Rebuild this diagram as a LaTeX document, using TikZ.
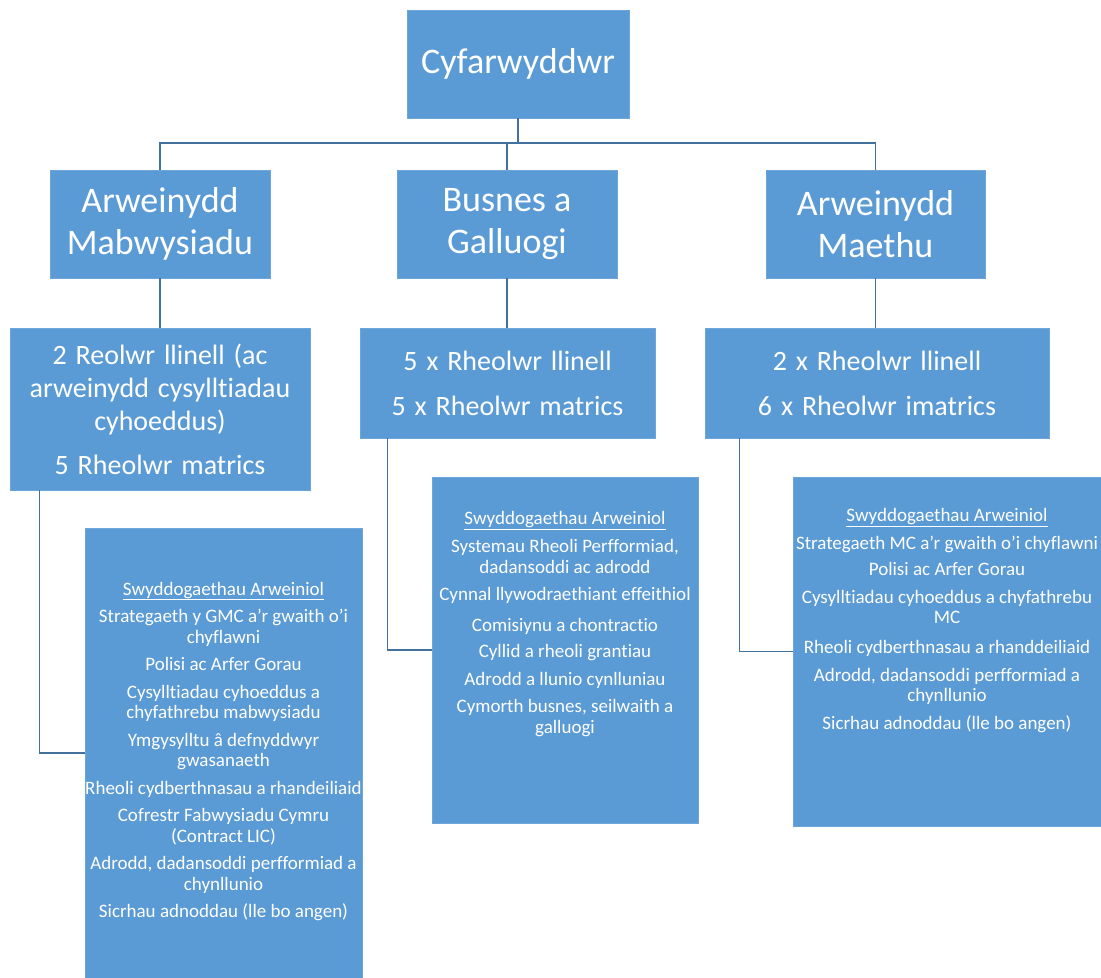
\documentclass[tikz,border=0pt]{standalone}
\usepackage{fontspec}
\setmainfont{Carlito}[Ligatures={NoCommon, NoContextual}]
\newfontfamily\widefamily{Carlito}[Ligatures={NoCommon, NoContextual}, WordSpace=1.4]
\definecolor{boxblue}{HTML}{5B9BD5}
\definecolor{boxedge}{HTML}{6EA6DA}
\definecolor{linkblue}{HTML}{41719C}

\begin{document}
\begin{tikzpicture}[x=1bp, y=-1bp,
  box/.style={rectangle, fill=boxblue, draw=boxedge, line width=0.8bp, text=white, align=center, inner sep=0pt},
  big/.style={box, minimum height=108bp, font=\fontsize{36bp}{42bp}\selectfont},
  mgr/.style={box, font=\widefamily\fontsize{28bp}{33bp}\selectfont},
  leadtext/.style={text=white, align=center, inner sep=0pt, anchor=north, font=\fontsize{19bp}{20.5bp}\selectfont},
  link/.style={draw=linkblue, line width=1.6bp}]
\useasboundingbox (0,0) rectangle (1101,978);
% Director
\node[big, minimum width=222bp] (dir) at (518,64) {Cyfarwyddwr}; % Top
% Leads
\node[big, minimum width=220bp] (mab) at (160,224) {Arweinydd\\Mabwysiadu}; % Left
\node[big, minimum width=220bp] (bus) at (507,224) {Busnes a\\Galluogi}; % Middle
\node[big, minimum width=219bp] (mae) at (875.5,224) {Arweinydd\\Maethu}; % Right
% Managers
\node[mgr, minimum width=300bp, minimum height=162bp] (mabmgr) at (160,409) {2 Reolwr llinell (ac\\arweinydd cysylltiadau\\cyhoeddus)\\[11bp]5 Rheolwr matrics};
\node[mgr, minimum width=295bp, minimum height=110bp] (busmgr) at (507.5,383) {5 x Rheolwr llinell\\[12bp]5 x Rheolwr matrics};
\node[mgr, minimum width=344bp, minimum height=110bp] (maemgr) at (877,383) {2 x Rheolwr llinell\\[12bp]6 x Rheolwr imatrics};
% Lead functions
\node[box, minimum width=277bp, minimum height=450bp] (mablead) at (223.5,753) {};
\node[box, minimum width=266bp, minimum height=346bp] (buslead) at (565,650) {};
\node[box, minimum width=308bp, minimum height=349bp] (maelead) at (947,651.5) {};
\node[leadtext] (mabtext) at ([yshift=-54bp]mablead.north) {\underline{Swyddogaethau Arweiniol}\\[7bp]
  Strategaeth y GMC a’r gwaith o’i\\chyflawni\\[7bp]
  Polisi ac Arfer Gorau\\[7bp]
  Cysylltiadau cyhoeddus a\\chyfathrebu mabwysiadu\\[7bp]
  Ymgysylltu â defnyddwyr\\gwasanaeth\\[7bp]
  Rheoli cydberthnasau a rhandeiliaid\\[7bp]
  Cofrestr Fabwysiadu Cymru\\(Contract LIC)\\[7bp]
  Adrodd, dadansoddi perfformiad a\\chynllunio\\[7bp]
  Sicrhau adnoddau (lle bo angen)};
\node[leadtext] (bustext) at ([yshift=-35bp]buslead.north) {\underline{Swyddogaethau Arweiniol}\\[7bp]
  Systemau Rheoli Perfformiad,\\dadansoddi ac adrodd\\[7bp]
  Cynnal llywodraethiant effeithiol\\[10bp]
  Comisiynu a chontractio\\[6bp]
  Cyllid a rheoli grantiau\\[7bp]
  Adrodd a llunio cynlluniau\\[7bp]
  Cymorth busnes, seilwaith a\\galluogi};
\node[leadtext] (maetext) at ([yshift=-32bp]maelead.north) {\underline{Swyddogaethau Arweiniol}\\[7bp]
  Strategaeth MC a’r gwaith o’i chyflawni\\[6bp]
  Polisi ac Arfer Gorau\\[7bp]
  Cysylltiadau cyhoeddus a chyfathrebu\\MC\\[9bp]
  Rheoli cydberthnasau a rhanddeiliaid\\[7bp]
  Adrodd, dadansoddi perfformiad a\\chynllunio\\[7bp]
  Sicrhau adnoddau (lle bo angen)};
% Connectors
\coordinate (bar) at (518,143);
\draw[link] (dir.south) -- (bar);
\draw[link] (mab.north) |- (bar -| mae.north) -- (mae.north);
\draw[link] (bus.north) -- (bus.north |- bar);
\draw[link] (mab.south) -- (mabmgr.north);
\draw[link] (bus.south) -- (bus.south |- busmgr.north);
\draw[link] (mae.south) -- (mae.south |- maemgr.north);
\draw[link] ([xshift=30bp]mabmgr.south west) |- (mablead.west);
\draw[link] ([xshift=28bp]busmgr.south west) |- (buslead.west);
\draw[link] ([xshift=35bp]maemgr.south west) |- (maelead.west);
\end{tikzpicture}
\end{document}
